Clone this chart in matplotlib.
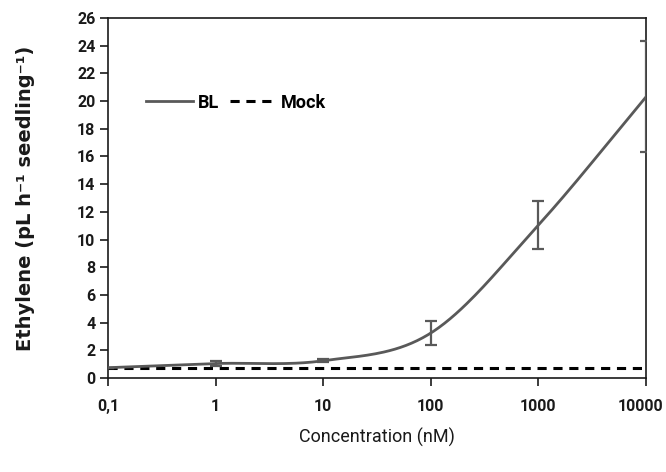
import numpy as np
import matplotlib
matplotlib.use("Agg")
import matplotlib.pyplot as plt
import matplotlib.transforms as mtransforms
from matplotlib.lines import Line2D

# Ethylene production vs brassinolide concentration
conc = [0.1, 1, 10, 100, 1000, 10000]
bl_mean = [0.75, 1.05, 1.25, 3.25, 11.05, 20.3]
bl_err = [0.0, 0.15, 0.1, 0.85, 1.75, 4.0]
mock_level = [0.75, 0.75, 0.75, 0.75, 0.75, 0.75]
x_ticklabels = ["0,1", "1", "10", "100", "1000", "10000"]

NARROW = ["Roboto", "Liberation Sans", "DejaVu Sans"]


def smooth_curve(xs, ys, n=40):
    """Catmull-Rom smoothing in log-x space (spreadsheet-style smoothed line)."""
    lx = np.log10(xs)
    y = np.asarray(ys, float)
    px = np.concatenate([[2 * lx[0] - lx[1]], lx, [2 * lx[-1] - lx[-2]]])
    py = np.concatenate([[2 * y[0] - y[1]], y, [2 * y[-1] - y[-2]]])
    out_x, out_y = [], []
    t = np.linspace(0, 1, n)
    for i in range(1, len(px) - 2):
        p0x, p1x, p2x, p3x = px[i - 1:i + 3]
        p0y, p1y, p2y, p3y = py[i - 1:i + 3]
        c1x, c1y = p1x + (p2x - p0x) / 6, p1y + (p2y - p0y) / 6
        c2x, c2y = p2x - (p3x - p1x) / 6, p2y - (p3y - p1y) / 6
        bx = (1 - t) ** 3 * p1x + 3 * (1 - t) ** 2 * t * c1x + 3 * (1 - t) * t ** 2 * c2x + t ** 3 * p2x
        by = (1 - t) ** 3 * p1y + 3 * (1 - t) ** 2 * t * c1y + 3 * (1 - t) * t ** 2 * c2y + t ** 3 * p2y
        out_x.append(bx)
        out_y.append(by)
    return 10 ** np.concatenate(out_x), np.concatenate(out_y)


fig = plt.figure(figsize=(6.66, 4.72), dpi=100)
ax = fig.add_axes([0.162, 0.199, 0.808, 0.763])

sx, sy = smooth_curve(conc, bl_mean)
ax.plot(sx, sy, color="#595959", lw=2.0, solid_capstyle="butt", zorder=3)
ax.errorbar(conc, bl_mean, yerr=bl_err, fmt="none", ecolor="#595959",
            elinewidth=1.6, capsize=4, capthick=1.6, zorder=4)
ax.plot(conc, mock_level, color="black", lw=2.2, ls=(0, (3, 2.2)), zorder=2)

ax.set_xscale("log")
ax.set_xlim(0.1, 10000)
ax.set_ylim(0, 26)
ax.set_yticks(np.arange(0, 27, 2))
ax.set_xticks(conc)
ax.set_xticklabels(x_ticklabels)
ax.minorticks_off()

for side in ("top", "right", "left", "bottom"):
    ax.spines[side].set_linewidth(1.2)
    ax.spines[side].set_color("#1a1a1a")
ax.tick_params(axis="both", direction="out", length=6, width=1.2, color="#1a1a1a",
               labelsize=11.5, labelcolor="#1a1a1a")
ax.tick_params(axis="x", pad=9)
ax.tick_params(axis="y", pad=3)

ax.set_ylabel("Ethylene (pL h\u207b\u00b9 seedling\u207b\u00b9)", fontsize=14,
              fontweight="bold", family="DejaVu Sans", labelpad=30, color="#1a1a1a")
ax.set_xlabel("Concentration (nM)", fontsize=13, family=NARROW, labelpad=10,
              color="#1a1a1a")

handles = [Line2D([], [], color="#595959", lw=2.0),
           Line2D([], [], color="black", lw=2.2, ls=(0, (3, 2.2)))]
leg = ax.legend(handles, ["BL", "Mock"], loc="upper left", bbox_to_anchor=(0.058, 0.81),
                ncol=2, frameon=False, handlelength=2.6, handletextpad=0.25,
                columnspacing=0.6, borderaxespad=0.0,
                prop=dict(family=NARROW, weight="bold", size=13))

# finalize tick label fonts once the ticks exist
fig.canvas.draw()
for lab in ax.get_xticklabels() + ax.get_yticklabels():
    lab.set_fontfamily(NARROW)
    lab.set_fontweight("bold")
# keep the rightmost x label inside the canvas
last = ax.xaxis.get_major_ticks()[-1].label1
last.set_transform(last.get_transform() +
                   mtransforms.ScaledTranslation(-4 / 72, 0, fig.dpi_scale_trans))

fig.savefig("out.png", dpi=100)
